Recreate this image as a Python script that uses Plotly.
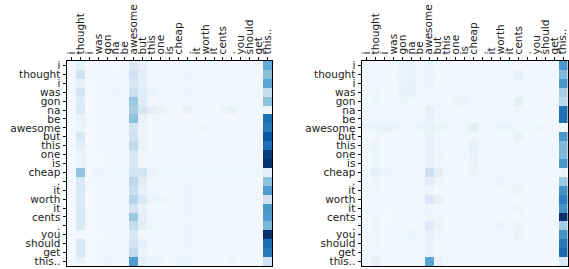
import plotly.graph_objects as go

tokens = ["i", "thought", "i", "was", "gon", "na", "be", "awesome", "but", "this",
          "one", "is", "cheap", ".", "it", "worth", "it", "cents", ".", "you",
          "should", "get", "this.."]

attn_left = [
    [0.02,0.08,0.02,0.03,0.03,0.02,0.03,0.13,0.07,0.03,0.03,0.03,0.03,0.04,0.03,0.03,0.04,0.03,0.03,0.03,0.03,0.03,0.52],
    [0.02,0.20,0.03,0.03,0.04,0.03,0.03,0.20,0.10,0.03,0.03,0.03,0.03,0.05,0.03,0.03,0.04,0.03,0.03,0.03,0.03,0.03,0.42],
    [0.02,0.07,0.02,0.03,0.03,0.03,0.03,0.15,0.08,0.03,0.03,0.03,0.03,0.03,0.03,0.03,0.04,0.03,0.03,0.03,0.03,0.03,0.55],
    [0.02,0.17,0.02,0.03,0.03,0.05,0.03,0.22,0.12,0.06,0.04,0.03,0.03,0.05,0.03,0.03,0.03,0.03,0.03,0.03,0.03,0.04,0.25],
    [0.02,0.12,0.02,0.03,0.03,0.03,0.03,0.38,0.12,0.03,0.03,0.03,0.03,0.03,0.03,0.03,0.03,0.03,0.03,0.03,0.03,0.03,0.42],
    [0.02,0.14,0.02,0.03,0.03,0.03,0.03,0.35,0.17,0.10,0.08,0.04,0.03,0.08,0.03,0.03,0.03,0.05,0.08,0.03,0.03,0.03,0.05],
    [0.02,0.07,0.02,0.03,0.03,0.03,0.03,0.42,0.07,0.03,0.03,0.03,0.03,0.03,0.03,0.03,0.03,0.03,0.03,0.03,0.03,0.03,0.75],
    [0.02,0.05,0.02,0.03,0.04,0.03,0.03,0.18,0.06,0.03,0.03,0.03,0.03,0.03,0.04,0.05,0.03,0.03,0.03,0.03,0.03,0.03,0.72],
    [0.02,0.15,0.02,0.03,0.03,0.03,0.03,0.20,0.06,0.03,0.03,0.03,0.03,0.04,0.03,0.03,0.03,0.03,0.03,0.03,0.03,0.03,0.86],
    [0.02,0.10,0.02,0.03,0.03,0.03,0.03,0.26,0.06,0.03,0.03,0.03,0.03,0.04,0.03,0.03,0.03,0.03,0.03,0.03,0.03,0.03,0.76],
    [0.02,0.06,0.02,0.02,0.03,0.03,0.03,0.15,0.04,0.03,0.03,0.03,0.03,0.03,0.03,0.03,0.03,0.03,0.03,0.03,0.03,0.03,0.96],
    [0.02,0.06,0.02,0.02,0.03,0.03,0.03,0.15,0.04,0.03,0.03,0.03,0.03,0.03,0.03,0.03,0.03,0.03,0.03,0.03,0.03,0.03,1.00],
    [0.02,0.40,0.03,0.05,0.03,0.04,0.04,0.18,0.18,0.05,0.04,0.04,0.04,0.04,0.04,0.04,0.04,0.04,0.04,0.04,0.04,0.04,0.10],
    [0.02,0.15,0.02,0.03,0.03,0.03,0.03,0.28,0.10,0.03,0.03,0.03,0.03,0.04,0.03,0.03,0.03,0.03,0.03,0.03,0.03,0.03,0.42],
    [0.02,0.15,0.02,0.03,0.03,0.03,0.03,0.22,0.08,0.04,0.03,0.03,0.03,0.05,0.03,0.03,0.03,0.03,0.03,0.03,0.03,0.03,0.58],
    [0.02,0.13,0.02,0.03,0.03,0.04,0.03,0.30,0.15,0.06,0.05,0.04,0.03,0.05,0.03,0.04,0.03,0.03,0.03,0.03,0.04,0.03,0.20],
    [0.02,0.15,0.02,0.03,0.03,0.03,0.03,0.18,0.08,0.03,0.03,0.03,0.03,0.05,0.03,0.03,0.03,0.03,0.03,0.03,0.03,0.03,0.60],
    [0.02,0.15,0.02,0.03,0.03,0.03,0.03,0.38,0.10,0.03,0.03,0.03,0.03,0.04,0.03,0.03,0.03,0.03,0.03,0.03,0.03,0.03,0.58],
    [0.02,0.15,0.02,0.03,0.04,0.03,0.03,0.25,0.10,0.05,0.04,0.03,0.03,0.05,0.03,0.03,0.03,0.03,0.03,0.03,0.04,0.03,0.45],
    [0.02,0.04,0.02,0.02,0.03,0.03,0.03,0.15,0.04,0.03,0.03,0.03,0.03,0.05,0.03,0.03,0.03,0.03,0.03,0.03,0.03,0.03,1.00],
    [0.02,0.15,0.02,0.03,0.03,0.03,0.03,0.18,0.08,0.03,0.03,0.03,0.03,0.05,0.03,0.03,0.03,0.03,0.03,0.03,0.03,0.03,0.76],
    [0.02,0.15,0.02,0.03,0.03,0.03,0.03,0.25,0.05,0.03,0.03,0.03,0.03,0.04,0.03,0.03,0.03,0.03,0.03,0.03,0.03,0.03,0.72],
    [0.02,0.06,0.02,0.03,0.05,0.03,0.03,0.58,0.10,0.06,0.05,0.03,0.05,0.05,0.03,0.03,0.03,0.03,0.05,0.03,0.03,0.03,0.20],
]

attn_right = [
    [0.02,0.03,0.02,0.03,0.06,0.07,0.03,0.06,0.03,0.03,0.03,0.03,0.03,0.03,0.03,0.03,0.04,0.03,0.03,0.03,0.03,0.03,0.60],
    [0.02,0.03,0.03,0.03,0.05,0.06,0.03,0.05,0.03,0.03,0.03,0.03,0.03,0.03,0.03,0.03,0.03,0.08,0.03,0.03,0.03,0.03,0.45],
    [0.02,0.03,0.02,0.03,0.06,0.08,0.03,0.06,0.03,0.03,0.03,0.03,0.03,0.03,0.03,0.03,0.03,0.04,0.03,0.03,0.03,0.03,0.60],
    [0.02,0.04,0.02,0.03,0.08,0.08,0.03,0.04,0.03,0.03,0.03,0.04,0.03,0.03,0.03,0.03,0.03,0.03,0.04,0.03,0.03,0.03,0.35],
    [0.02,0.05,0.02,0.04,0.05,0.04,0.03,0.04,0.03,0.03,0.06,0.06,0.03,0.03,0.03,0.03,0.03,0.10,0.03,0.03,0.03,0.03,0.28],
    [0.02,0.03,0.02,0.03,0.03,0.03,0.03,0.10,0.03,0.03,0.03,0.03,0.03,0.03,0.03,0.03,0.03,0.05,0.03,0.03,0.03,0.03,0.75],
    [0.02,0.03,0.02,0.03,0.03,0.03,0.03,0.08,0.03,0.03,0.03,0.03,0.03,0.03,0.03,0.03,0.03,0.03,0.03,0.03,0.03,0.03,0.75],
    [0.06,0.06,0.08,0.06,0.04,0.04,0.05,0.07,0.06,0.05,0.04,0.05,0.10,0.04,0.04,0.05,0.05,0.04,0.04,0.05,0.04,0.04,0.03],
    [0.02,0.03,0.02,0.03,0.03,0.03,0.03,0.07,0.03,0.03,0.03,0.03,0.04,0.03,0.03,0.03,0.03,0.08,0.03,0.03,0.03,0.03,0.60],
    [0.02,0.06,0.02,0.03,0.03,0.03,0.03,0.08,0.04,0.03,0.03,0.03,0.08,0.03,0.03,0.03,0.03,0.04,0.03,0.03,0.03,0.03,0.45],
    [0.02,0.05,0.02,0.03,0.03,0.03,0.03,0.08,0.05,0.03,0.03,0.03,0.07,0.03,0.03,0.03,0.03,0.04,0.03,0.03,0.03,0.03,0.45],
    [0.02,0.05,0.02,0.03,0.03,0.03,0.03,0.08,0.04,0.03,0.03,0.03,0.06,0.03,0.03,0.03,0.03,0.04,0.03,0.03,0.03,0.03,0.60],
    [0.03,0.08,0.05,0.04,0.03,0.03,0.03,0.22,0.10,0.04,0.04,0.03,0.05,0.03,0.03,0.03,0.03,0.04,0.03,0.03,0.03,0.03,0.05],
    [0.02,0.04,0.02,0.03,0.03,0.03,0.03,0.10,0.05,0.03,0.03,0.03,0.03,0.03,0.03,0.05,0.03,0.04,0.03,0.03,0.03,0.03,0.38],
    [0.02,0.04,0.02,0.03,0.03,0.03,0.03,0.05,0.03,0.03,0.03,0.03,0.03,0.03,0.03,0.03,0.03,0.05,0.03,0.03,0.03,0.03,0.62],
    [0.02,0.03,0.02,0.03,0.03,0.03,0.03,0.14,0.07,0.03,0.03,0.03,0.03,0.03,0.03,0.03,0.03,0.03,0.03,0.03,0.03,0.03,0.70],
    [0.02,0.04,0.02,0.03,0.04,0.03,0.03,0.05,0.03,0.03,0.03,0.03,0.03,0.03,0.03,0.03,0.03,0.05,0.03,0.03,0.03,0.03,0.62],
    [0.02,0.03,0.02,0.02,0.02,0.02,0.02,0.04,0.03,0.02,0.02,0.02,0.03,0.02,0.02,0.02,0.02,0.03,0.02,0.02,0.02,0.02,1.00],
    [0.02,0.05,0.02,0.03,0.03,0.03,0.03,0.12,0.06,0.03,0.03,0.03,0.03,0.03,0.03,0.05,0.03,0.05,0.03,0.03,0.03,0.03,0.35],
    [0.02,0.04,0.02,0.03,0.04,0.05,0.03,0.07,0.04,0.03,0.03,0.03,0.03,0.03,0.03,0.03,0.03,0.06,0.03,0.03,0.03,0.03,0.62],
    [0.02,0.04,0.02,0.03,0.03,0.03,0.03,0.07,0.03,0.03,0.03,0.03,0.03,0.03,0.03,0.03,0.03,0.04,0.03,0.03,0.03,0.03,0.72],
    [0.02,0.03,0.02,0.03,0.03,0.03,0.03,0.07,0.03,0.03,0.03,0.03,0.03,0.03,0.03,0.03,0.03,0.04,0.03,0.03,0.03,0.03,0.78],
    [0.02,0.07,0.02,0.03,0.03,0.03,0.03,0.55,0.08,0.03,0.03,0.03,0.03,0.03,0.03,0.03,0.03,0.03,0.03,0.03,0.03,0.03,0.15],
]

blues = [
    [0.0, "rgb(247,251,255)"], [0.125, "rgb(222,235,247)"], [0.25, "rgb(198,219,239)"],
    [0.375, "rgb(158,202,225)"], [0.5, "rgb(107,174,214)"], [0.625, "rgb(66,146,198)"],
    [0.75, "rgb(33,113,181)"], [0.875, "rgb(8,81,156)"], [1.0, "rgb(8,48,107)"],
]

idx = list(range(len(tokens)))
W, H = 569, 269
font = dict(family="DejaVu Sans", size=10.5, color="#222222")

fig = go.Figure()
for mat, xa, ya in [(attn_left, "x", "y"), (attn_right, "x2", "y2")]:
    fig.add_trace(go.Heatmap(z=mat, x=idx, y=idx, colorscale=blues, zmin=0, zmax=1,
                             showscale=False, xaxis=xa, yaxis=ya, hoverinfo="skip"))

top, bottom = 61, 266
ydom = [(H - bottom) / H, (H - top) / H]
xdoms = [[67 / W, 272 / W], [362 / W, 567.5 / W]]

axis_common = dict(showgrid=False, zeroline=False, showline=True, linecolor="black",
                   linewidth=1, mirror=True, ticks="outside", ticklen=3.5, tickwidth=1,
                   tickcolor="black", tickmode="array", tickvals=idx, ticktext=tokens,
                   tickfont=font, automargin=False)

fig.update_layout(
    width=W, height=H, margin=dict(l=0, r=0, t=0, b=0),
    paper_bgcolor="white", plot_bgcolor="white",
    xaxis=dict(domain=xdoms[0], side="top", tickangle=-90, range=[-0.5, 22.5], anchor="y", **axis_common),
    yaxis=dict(domain=ydom, range=[22.5, -0.5], anchor="x", **axis_common),
    xaxis2=dict(domain=xdoms[1], side="top", tickangle=-90, range=[-0.5, 22.5], anchor="y2", **axis_common),
    yaxis2=dict(domain=ydom, range=[22.5, -0.5], anchor="x2", **axis_common),
)

fig.write_html("out.html", config={"displayModeBar": False},
               post_script="document.body.style.margin='0px';document.body.style.overflow='hidden';")
